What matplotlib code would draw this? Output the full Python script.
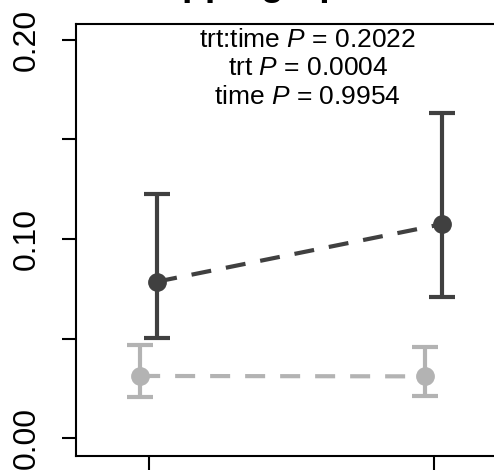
import matplotlib.pyplot as plt

plt.rcParams['font.family'] = ['Liberation Sans', 'DejaVu Sans']
plt.rcParams['mathtext.fontset'] = 'custom'
plt.rcParams['mathtext.it'] = 'Liberation Sans:italic'
plt.rcParams['mathtext.rm'] = 'Liberation Sans'

# time points (1 = baseline, 2 = follow-up)
times = [1, 2]

# treated group: mean and interval bounds
trt_mean = [0.0786, 0.1075]
trt_low = [0.0504, 0.0710]
trt_high = [0.1226, 0.1633]

# control group
ctl_mean = [0.0312, 0.0310]
ctl_low = [0.0206, 0.0211]
ctl_high = [0.0467, 0.0457]

pvals = [("trt:time", "0.2022"), ("trt", "0.0004"), ("time", "0.9954")]

title = "Tapping Speed"

DARK = "#404040"
LIGHT = "#b3b3b3"
dodge = 0.03

fig = plt.figure(figsize=(4.94, 4.75), dpi=100)
ax = fig.add_axes([76/494, 19/475, 429/494, 432/475])

def draw_group(ax, offset, mean, low, high, color):
    xs = [t + offset for t in times]
    yerr = [[m - l for m, l in zip(mean, low)], [h - m for m, h in zip(mean, high)]]
    ax.errorbar(xs, mean, yerr=yerr, fmt='none', ecolor=color, elinewidth=3,
                capsize=9.2, capthick=3, zorder=2)
    ax.plot(xs, mean, color=color, lw=3, linestyle=(0, (4.8, 3.6)), zorder=2)
    ax.plot(xs, mean, 'o', color=color, ms=12.5, zorder=3)

draw_group(ax, -dodge, ctl_mean, ctl_low, ctl_high, LIGHT)
draw_group(ax, dodge, trt_mean, trt_low, trt_high, DARK)

ax.set_xlim(0.745, 2.25)
ax.set_ylim(-0.009, 0.208)

ax.set_xticks(times)
ax.set_xticklabels(["", ""])
ax.set_yticks([0.0, 0.05, 0.10, 0.15, 0.20])
ax.set_yticklabels(["0.00", "", "0.10", "", "0.20"], rotation=90, va='center')
ax.tick_params(axis='both', length=10, width=1.5, labelsize=23, color='black')
ax.tick_params(axis='y', pad=15)

for side in ['left', 'top', 'bottom']:
    ax.spines[side].set_linewidth(1.5)
ax.spines['right'].set_visible(False)

# model p-values, one line each
for i, (term, p) in enumerate(pvals):
    ax.text(1.558, 0.2 - i * 0.0143, term + r" $\mathit{P}$ = " + p,
            ha='center', va='center', fontsize=19)

fig.text(141/494, 1 + 5/475, title, ha='left', va='baseline',
         fontsize=27, fontweight='bold')

fig.savefig("out.png", dpi=100)
